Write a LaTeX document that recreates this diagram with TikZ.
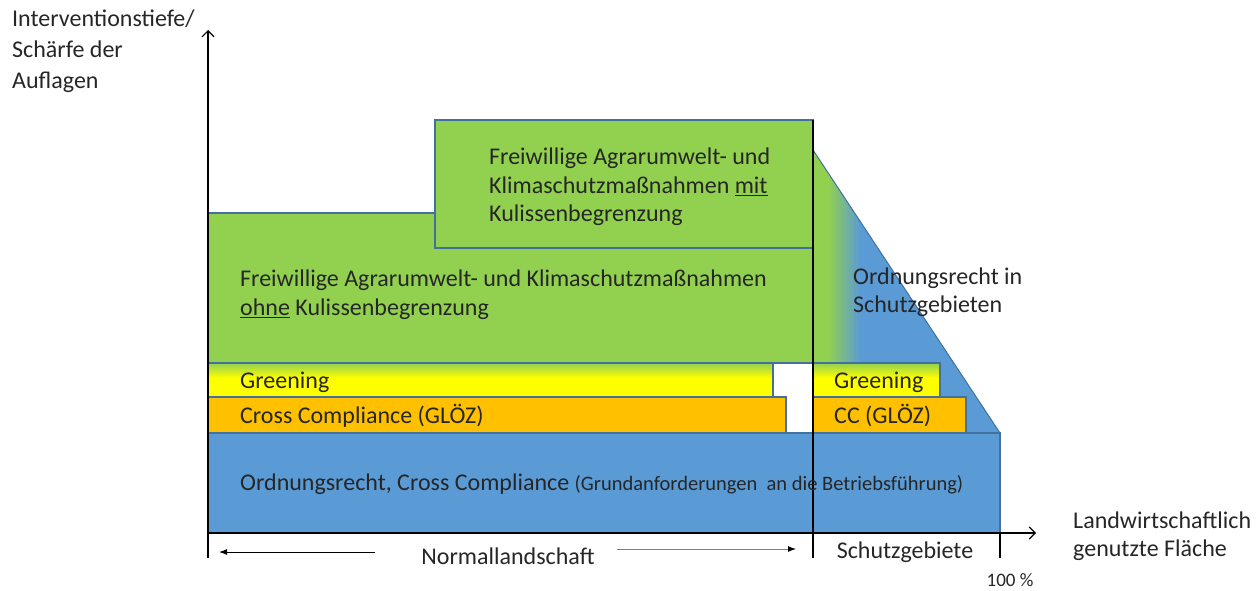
\documentclass[tikz,border=0pt]{standalone}
\usepackage{fontspec}
\setmainfont{Carlito}
\usetikzlibrary{arrows.meta}
\definecolor{cgreen}{HTML}{92D050}
\definecolor{cblue}{HTML}{5B9BD5}
\definecolor{cyellow}{HTML}{FFFF00}
\definecolor{corange}{HTML}{FFC000}
\definecolor{cedge}{HTML}{41719C}
\definecolor{cgrayline}{HTML}{7F7F7F}
\tikzset{
  box/.style={draw=cedge, line width=1.2pt},
  lbl/.style={anchor=west, inner sep=0pt, font=\fontsize{24}{29}\selectfont, align=left, text=black!85},
  axis/.style={line width=1.1pt, -{Straight Barb[length=6pt,width=12pt]}},
  tick/.style={line width=1.1pt},
  narrow/.style={line width=1pt, -{Latex[length=8pt,width=6pt]}}
}
\begin{document}
\begin{tikzpicture}[x=1pt,y=-1pt]
\useasboundingbox (0,0) rectangle (1258,591);
% triangle region (Schutzgebiete)
\fill[cblue] (813,150) -- (1000,433) -- (813,433) -- cycle;
\begin{scope}
  \clip (813,150) -- (1000,433) -- (813,433) -- cycle;
  \fill[cgreen] (812,140) rectangle (829,433);
  \shade[left color=cgreen, right color=cblue] (828,140) rectangle (860,433);
\end{scope}
\draw[cedge, line width=1pt] (813,150) -- (1000,433);
% bottom blue box
\draw[box, fill=cblue] (208,433) rectangle (1000,533);
% big green box
\draw[box, fill=cgreen] (208,213) rectangle (813,363);
% upper green box
\draw[box, fill=cgreen] (435,120) rectangle (813,248);
% greening bars
\fill[cyellow] (208,363) rectangle (773,397);
\shade[top color=cgreen, bottom color=cyellow] (208,363) rectangle (773,378);
\draw[box] (208,363) rectangle (773,397);
\fill[cyellow] (813,363) rectangle (940,397);
\shade[top color=cgreen, bottom color=cyellow] (813,363) rectangle (940,378);
\draw[box] (813,363) rectangle (940,397);
% cross compliance bars
\draw[box, fill=corange] (208,397) rectangle (786,433);
\draw[box, fill=corange] (813,397) rectangle (966,433);
% coordinates for axes and ticks
\coordinate (ybot) at (208,558);
\coordinate (ytop) at (208,30);
\coordinate (xo) at (208,533);
\coordinate (xend) at (1036,533);
\coordinate (stop) at (813,120);
\coordinate (sbot) at (813,558);
\coordinate (rtop) at (1000,533);
\coordinate (rbot) at (1000,558);
\coordinate (la1) at (375,552);
\coordinate (la2) at (219,552);
\coordinate (ra1) at (617,549);
\coordinate (ra2) at (796,549);
% lines
\draw[tick] (stop) -- (sbot);
\draw[tick] (rtop) -- (rbot);
\draw[axis] (ybot) -- (ytop);
\draw[axis] (xo) -- (xend);
\draw[narrow] (la1) -- (la2);
\draw[narrow, cgrayline, -{Latex[length=8pt,width=6pt,color=black]}] (ra1) -- (ra2);
% texts
\node[lbl, font=\fontsize{24}{31}\selectfont] (ylab) at (12,51) {Interventionstiefe/\\Schärfe der\\Auflagen};
\node[lbl, font=\fontsize{24}{28.5}\selectfont] (mit) at (489,187) {Freiwillige Agrarumwelt- und\\Klimaschutzmaßnahmen \underline{mit}\\Kulissenbegrenzung};
\node[lbl] (ohne) at (240,295) {Freiwillige Agrarumwelt- und Klimaschutzmaßnahmen\\\underline{ohne} Kulissenbegrenzung};
\node[lbl, font=\fontsize{24}{28}\selectfont] (ors) at (853,292) {Ordnungsrecht in\\Schutzgebieten};
\node[lbl] (gr1) at (240,382) {Greening};
\node[lbl] (gr2) at (834,382) {Greening};
\node[lbl] (cc1) at (240,416) {Cross Compliance (GLÖZ)};
\node[lbl] (cc2) at (834,416) {CC (GLÖZ)};
\node[lbl] (ord) at (240,484) {Ordnungsrecht, Cross Compliance {\fontsize{20.5}{22}\selectfont(Grundanforderungen~ an die Betriebsführung)}};
\node[lbl, anchor=center] (norm) at (508,556) {Normallandschaft};
\node[lbl, anchor=center] (schutz) at (905,552) {Schutzgebiete};
\node[lbl, anchor=center, font=\fontsize{19}{20}\selectfont] (pct) at (1010,580) {100 \%};
\node[lbl, font=\fontsize{24}{28}\selectfont] (xlab) at (1073,536) {Landwirtschaftlich\\genutzte Fläche};
\end{tikzpicture}
\end{document}
